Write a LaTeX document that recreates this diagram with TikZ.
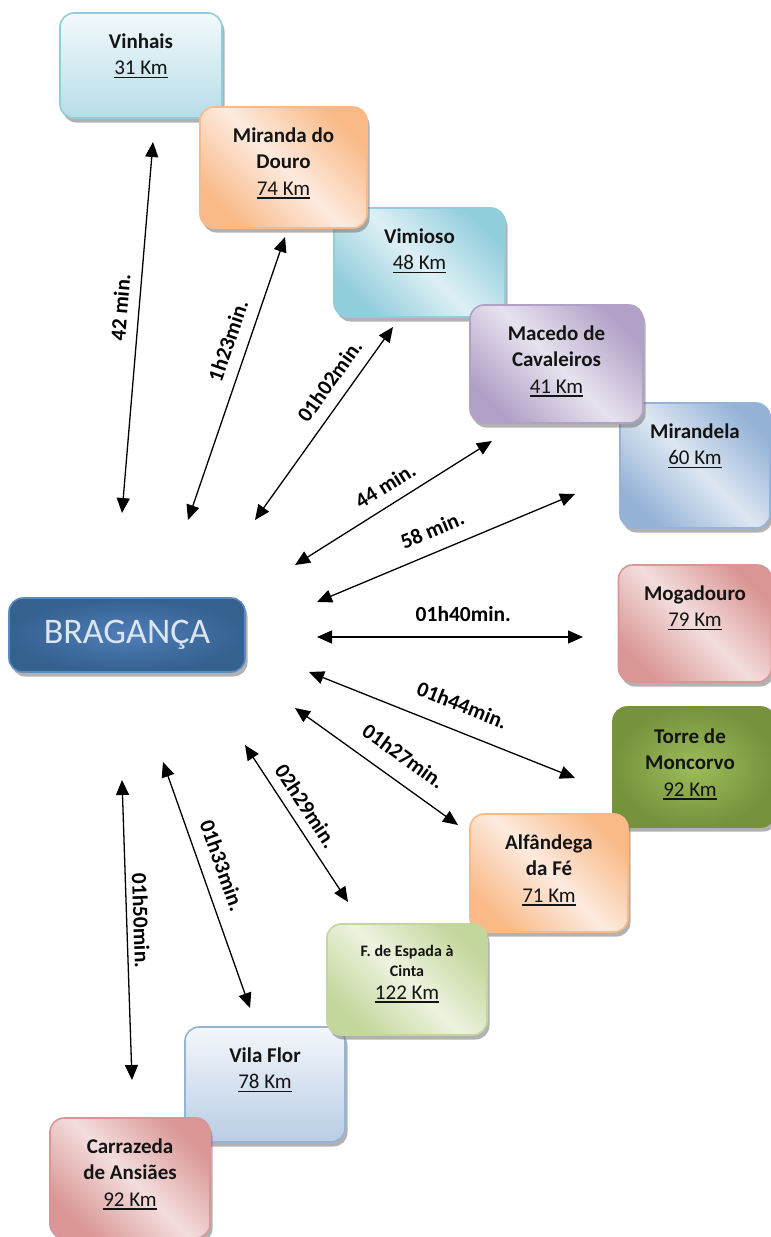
\documentclass[tikz,border=0pt]{standalone}
\usepackage{fontspec}
\setmainfont{Carlito}
\usetikzlibrary{arrows.meta,shadows,calc}
\definecolor{vinA}{HTML}{B7DDE8}\definecolor{vinB}{HTML}{F2F9FB}\definecolor{vinD}{HTML}{93CDDD}
\definecolor{orA}{HTML}{F9BA88}\definecolor{orB}{HTML}{FDEBDF}
\definecolor{cyA}{HTML}{92CDDC}\definecolor{cyB}{HTML}{DDF0F5}
\definecolor{puA}{HTML}{B2A1C7}\definecolor{puB}{HTML}{E7E2EE}
\definecolor{blA}{HTML}{95B3D7}\definecolor{blB}{HTML}{DDE7F2}
\definecolor{reA}{HTML}{D99694}\definecolor{reB}{HTML}{F3DEDD}
\definecolor{grA}{HTML}{76923C}\definecolor{grB}{HTML}{9CBC5A}
\definecolor{lgA}{HTML}{C3D69B}\definecolor{lgB}{HTML}{EDF3E0}
\definecolor{vfA}{HTML}{B9CDE5}\definecolor{vfB}{HTML}{F4F7FB}
\definecolor{brA}{HTML}{35618F}\definecolor{brB}{HTML}{4E7DB8}\definecolor{brD}{HTML}{5B8BC4}
\definecolor{brT}{HTML}{DCE6F2}
\newcommand\kmline[1]{\leavevmode\vtop{\hbox{#1}\kern2pt\hrule height 1.2pt}}
\begin{document}
\begin{tikzpicture}[x=1pt,y=-1pt,
  box/.style={rectangle, rounded corners=14pt, line width=1.6pt, inner sep=0pt,
    drop shadow={shadow xshift=2.5pt, shadow yshift=-4.5pt, fill=black!55, opacity=0.55}},
  diagshade/.style 2 args={draw=#1, top color=#1, bottom color=#1, middle color=#2, shading angle=-45},
  vshade/.style n args={3}{draw=#3, top color=#2, bottom color=#1},
  boxtext/.style={anchor=north, align=center, inner sep=0pt, font=\fontsize{21}{26.5}\selectfont, text=black!92},
  link/.style={line width=1.3pt, {Triangle[length=15pt,width=13pt]}-{Triangle[length=15pt,width=13pt]}},
  time/.style={sloped, above=#1, inner sep=1pt, font=\bfseries\fontsize{21.5}{24}\selectfont},
]
\useasboundingbox (0,0) rectangle (771,1237);
\fill[white] (0,0) rectangle (771,1237);

% upper chain
\node[box, vshade={vinA}{vinB}{vinD}, minimum width=162pt, minimum height=105pt] (vinhais) at (141,65.5) {};
\node[box, diagshade={cyA}{cyB}, minimum width=171pt, minimum height=109pt] (vimioso) at (419.5,262.5) {};
\node[box, diagshade={orA}{orB}, minimum width=167pt, minimum height=121pt] (miranda) at (283.5,167.5) {};
\node[box, diagshade={blA}{blB}, minimum width=150pt, minimum height=125pt] (mirandela) at (695,465.5) {};
\node[box, diagshade={puA}{puB}, minimum width=173pt, minimum height=118pt] (macedo) at (556.5,364) {};

% centre
\node[box, draw=brD, inner color=brB, outer color=brA, minimum width=236pt, minimum height=74pt,
  text=brT, font=\fontsize{36}{40}\selectfont] (braganca) at (127,635) {\raisebox{-4pt}{BRAGANÇA}};

% right
\node[box, diagshade={reA}{reB}, minimum width=153pt, minimum height=117pt] (mogadouro) at (695,623.5) {};
\node[box, draw=grA, inner color=grB, outer color=grA, minimum width=162pt, minimum height=120pt] (torre) at (694,767) {};

% lower chain
\node[box, diagshade={orA}{orB}, minimum width=158pt, minimum height=118pt] (alfandega) at (549,873) {};
\node[box, vshade={vfA}{vfB}{blA}, minimum width=160pt, minimum height=115pt] (vilaflor) at (265,1084.5) {};
\node[box, diagshade={lgA}{lgB}, minimum width=160pt, minimum height=111pt] (espada) at (407,979.5) {};
\node[box, diagshade={reA}{reB}, minimum width=160pt, minimum height=120pt] (carrazeda) at (130,1178) {};

% box texts
\node[boxtext] (vinhais-t) at ($(vinhais.north)+(0,20)$) {\rule{0pt}{16pt}\textbf{Vinhais}\\\kmline{31 Km}};
\node[boxtext] (miranda-t) at ($(miranda.north)+(0,20)$) {\rule{0pt}{16pt}\textbf{Miranda do}\\\textbf{Douro}\\\kmline{74 Km}};
\node[boxtext] (vimioso-t) at ($(vimioso.north)+(0,20)$) {\rule{0pt}{16pt}\textbf{Vimioso}\\\kmline{48 Km}};
\node[boxtext] (macedo-t) at ($(macedo.north)+(0,20)$) {\rule{0pt}{16pt}\textbf{Macedo de}\\\textbf{Cavaleiros}\\\kmline{41 Km}};
\node[boxtext] (mirandela-t) at ($(mirandela.north)+(0,20)$) {\rule{0pt}{16pt}\textbf{Mirandela}\\\kmline{60 Km}};
\node[boxtext] (mogadouro-t) at ($(mogadouro.north)+(0,20)$) {\rule{0pt}{16pt}\textbf{Mogadouro}\\\kmline{79 Km}};
\node[boxtext] (torre-t) at ($(torre.north)+(-4,21)$) {\rule{0pt}{16pt}\textbf{Torre de}\\\textbf{Moncorvo}\\\kmline{92 Km}};
\node[boxtext] (alfandega-t) at ($(alfandega.north)+(0,20)$) {\rule{0pt}{16pt}\textbf{Alfândega}\\\textbf{da Fé}\\\kmline{71 Km}};
\node[boxtext] (espada-t) at ($(espada.north)+(0,21)$) {\fontsize{16}{20}\selectfont\rule{0pt}{12pt}\textbf{F. de Espada à}\\[-6.5pt]\fontsize{16}{20}\selectfont\textbf{Cinta}\\[-3.5pt]\kmline{122 Km}};
\node[boxtext] (vilaflor-t) at ($(vilaflor.north)+(0,20)$) {\rule{0pt}{16pt}\textbf{Vila Flor}\\\kmline{78 Km}};
\node[boxtext] (carrazeda-t) at ($(carrazeda.north)+(0,20)$) {\rule{0pt}{16pt}\textbf{Carrazeda}\\\textbf{de Ansiães}\\\kmline{92 Km}};

% arrow ends
\coordinate (a1s) at (122,513);  \coordinate (a1e) at (153,142);
\coordinate (a2s) at (188,520);  \coordinate (a2e) at (285,237);
\coordinate (a3s) at (255,520);  \coordinate (a3e) at (393,327);
\coordinate (a4s) at (295,565);  \coordinate (a4e) at (492,441);
\coordinate (a5s) at (317,602);  \coordinate (a5e) at (575,494);
\coordinate (a6s) at (317,637);  \coordinate (a6e) at (583,637);
\coordinate (a7s) at (309,672);  \coordinate (a7e) at (575,778);
\coordinate (a8s) at (295,708);  \coordinate (a8e) at (458,825);
\coordinate (a9s) at (245,745);  \coordinate (a9e) at (348,902);
\coordinate (a10s) at (163,762); \coordinate (a10e) at (250,1008);
\coordinate (a11s) at (122,780); \coordinate (a11e) at (132,1080);

\draw[link] (a1s) -- node[time=9.5pt, pos=0.55] (t1) {42 min.} (a1e);
\draw[link] (a2s) -- node[time=11pt, pos=0.61] (t2) {1h23min.} (a2e);
\draw[link] (a3s) -- node[time=11pt, pos=0.66] (t3) {01h02min.} (a3e);
\draw[link] (a4s) -- node[time=10pt, pos=0.51] (t4) {44 min.} (a4e);
\draw[link] (a5s) -- node[time=13pt, pos=0.48] (t5) {58 min.} (a5e);
\draw[link] (a6s) -- node[time=13.5pt, pos=0.55] (t6) {01h40min.} (a6e);
\draw[link] (a7s) -- node[time=17pt, pos=0.54] (t7) {01h44min.} (a7e);
\draw[link] (a8s) -- node[time=15pt, pos=0.58] (t8) {01h27min.} (a8e);
\draw[link] (a9s) -- node[time=8.5pt, pos=0.45] (t9) {02h29min.} (a9e);
\draw[link] (a10s) -- node[time=12pt, pos=0.45] (t10) {01h33min.} (a10e);
\draw[link] (a11s) -- node[time=5pt, pos=0.47] (t11) {01h50min.} (a11e);
\end{tikzpicture}
\end{document}
